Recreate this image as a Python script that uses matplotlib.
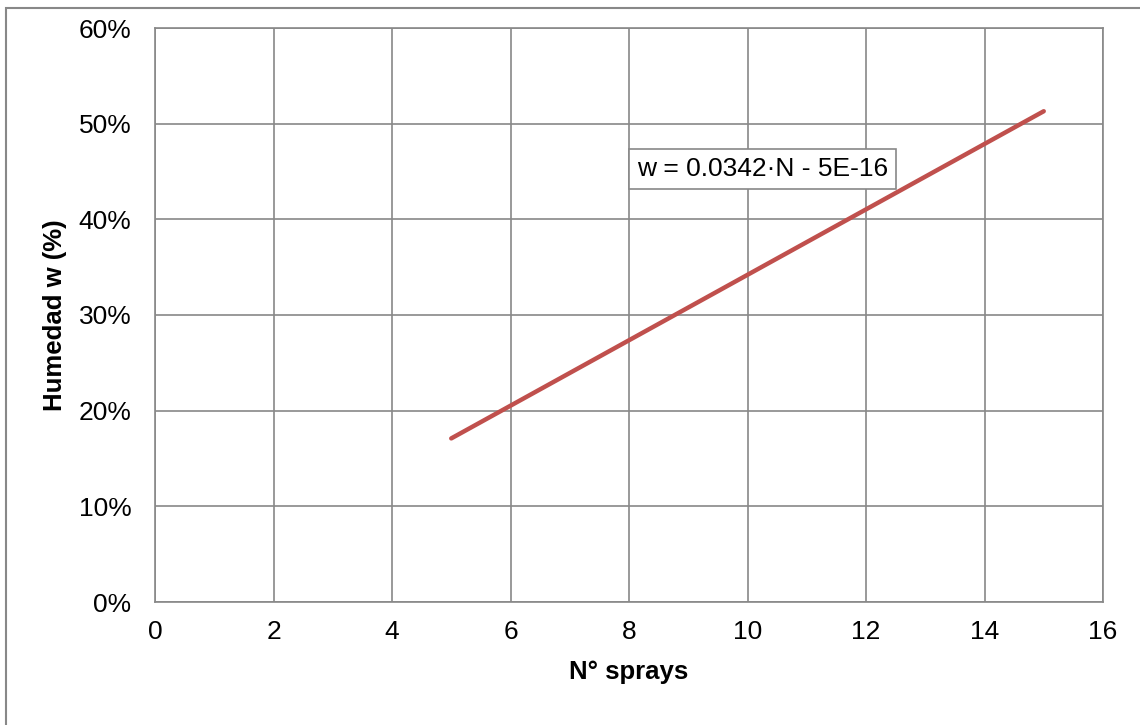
import matplotlib
matplotlib.use("Agg")
import matplotlib.pyplot as plt
from matplotlib.patches import Rectangle
from matplotlib.ticker import FuncFormatter

plt.rcParams['font.family'] = ['Liberation Sans', 'DejaVu Sans']

n_sprays = [5, 15]
humedad = [0.171, 0.513]
x_ticks = [0, 2, 4, 6, 8, 10, 12, 14, 16]
y_ticks = [0.0, 0.1, 0.2, 0.3, 0.4, 0.5, 0.6]
equation = "w = 0.0342·N - 5E-16"

W, H = 1140, 725
fig = plt.figure(figsize=(W/100, H/100), dpi=100)
ax = fig.add_axes([155/W, 1-602/H, (1103-155)/W, (602-28)/H])

# outer chart border
fig.patches.append(Rectangle((6/W, -0.1), 1.2, 1-8/H+0.1, transform=fig.transFigure,
                             fill=False, edgecolor='#888888', linewidth=1.5))

ax.plot(n_sprays, humedad, color='#C0504D', linewidth=3.2, solid_capstyle='round')

ax.set_xlim(0, 16)
ax.set_ylim(0, 0.6)
ax.set_xticks(x_ticks)
ax.set_yticks(y_ticks)
ax.yaxis.set_major_formatter(FuncFormatter(lambda v, p: f"{v*100:.0f}%"))
ax.grid(True, color='#888888', linewidth=1.2)
ax.set_axisbelow(True)
for s in ax.spines.values():
    s.set_color('#888888')
    s.set_linewidth(1.2)
ax.tick_params(axis='both', length=0, labelsize=19)
ax.tick_params(axis='y', pad=17)
ax.tick_params(axis='x', pad=13)

ax.set_xlabel("N° sprays", fontsize=18.5, fontweight='bold')
ax.set_ylabel("Humedad w (%)", fontsize=18.5, fontweight='bold')
ax.xaxis.set_label_coords(0.5, -(672-602)/574, transform=ax.transAxes)
ax.xaxis.label.set_va('center')
ax.yaxis.set_label_coords(-(155-55)/948, 0.5, transform=ax.transAxes)
ax.yaxis.label.set_va('center')

ax.text(10.25, 0.4522, equation, fontsize=19, ha='center', va='center',
        bbox=dict(boxstyle='square,pad=0.3', facecolor='white', edgecolor='#888888', linewidth=1.2))

fig.savefig("out.png", dpi=100)
